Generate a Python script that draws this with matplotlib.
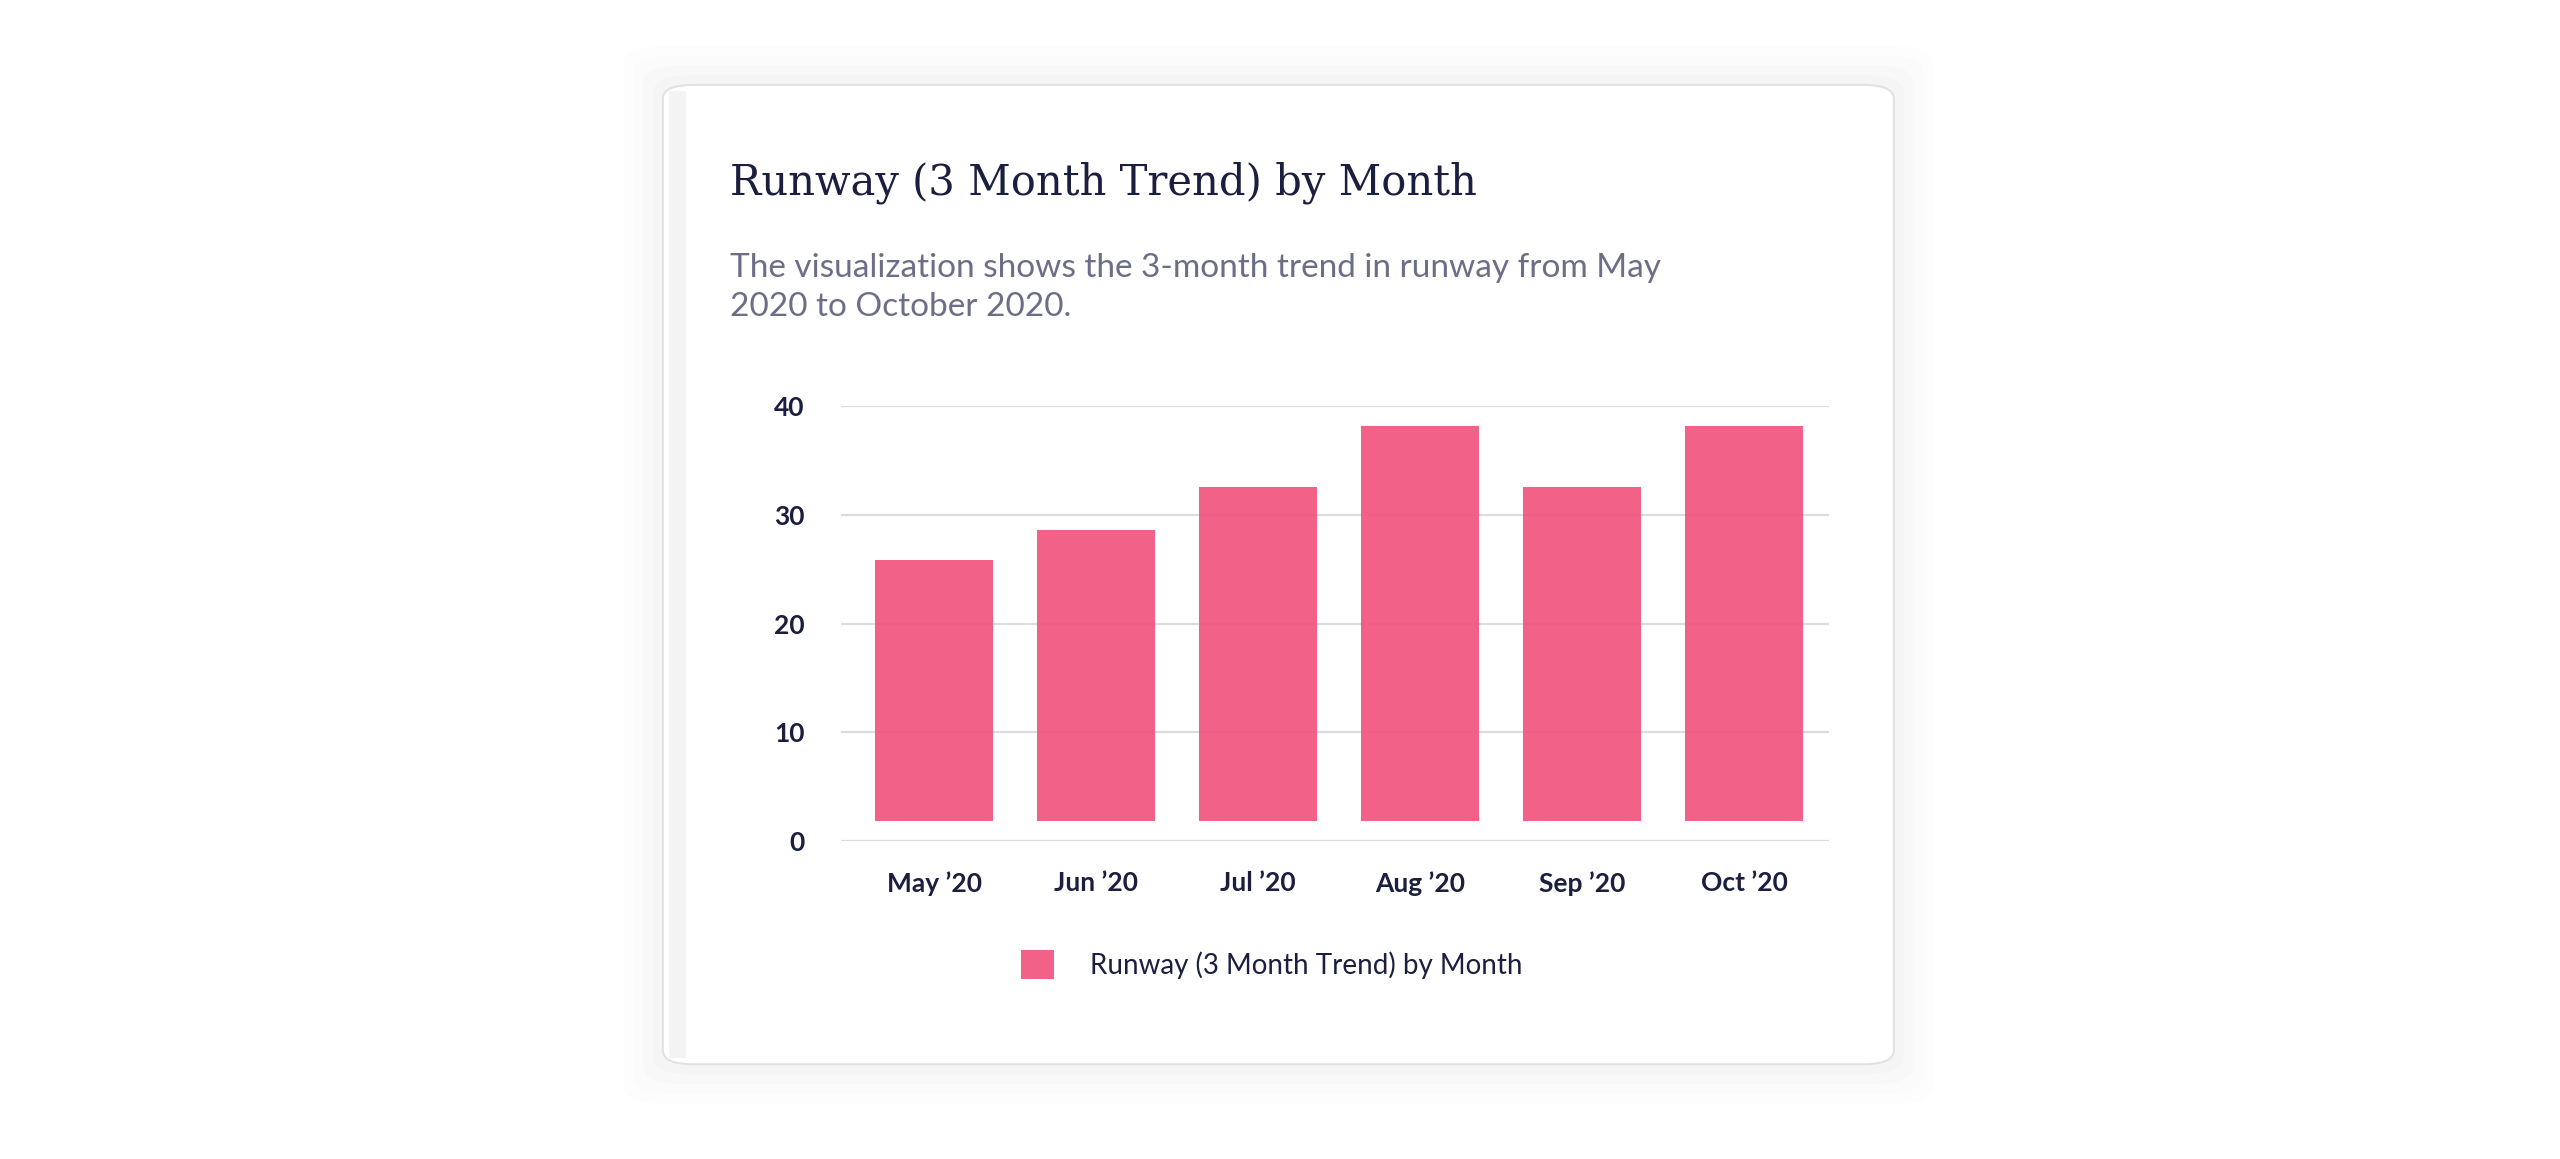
import matplotlib
matplotlib.use("Agg")
import matplotlib.pyplot as plt
from matplotlib.patches import FancyBboxPatch, Rectangle

months = ["May \u201920", "Jun \u201920", "Jul \u201920", "Aug \u201920", "Sep \u201920", "Oct \u201920"]
runway = [25.9, 28.6, 32.6, 38.2, 32.6, 38.2]
base = 1.8
yticks = [0, 10, 20, 30, 40]

W, H = 1568, 710
fig = plt.figure(figsize=(25.6, 11.59), dpi=100)
fig.patch.set_facecolor("white")

def fx(x): return x / W
def fy(y): return 1 - y / H

# card shadow + card
for i, a in enumerate([0.006, 0.008, 0.01, 0.012]):
    d = (4 - i) * 6
    fig.patches.append(FancyBboxPatch((fx(406 - d), fy(652 + d)), fx(754 + 2*d), (600 + 2*d) / H,
        boxstyle="round,pad=0,rounding_size=0.015", transform=fig.transFigure,
        facecolor="black", alpha=a, edgecolor="none", zorder=0))
fig.patches.append(FancyBboxPatch((fx(406), fy(652)), fx(754), 600 / H,
    boxstyle="round,pad=0,rounding_size=0.012", transform=fig.transFigure,
    facecolor="white", edgecolor="#e2e2e2", linewidth=1.5, zorder=1))
fig.patches.append(Rectangle((fx(410), fy(648)), fx(10), 592 / H, transform=fig.transFigure,
    facecolor="#f3f3f4", edgecolor="none", zorder=2))

fig.text(fx(447), fy(112), "Runway (3 Month Trend) by Month", fontsize=30, family="DejaVu Serif",
         color="#1b1f3f", va="center", ha="left", zorder=5)
fig.text(fx(447), fy(176), "The visualization shows the 3-month trend in runway from May\n2020 to October 2020.",
         fontsize=24, family="Lato", color="#6b6e86", va="center", ha="left", linespacing=1.4, zorder=5)

ax = fig.add_axes([fx(515), fy(515), fx(1120 - 515), (515 - 249) / H])
ax.set_zorder(5)
ax.set_facecolor("none")
x = list(range(len(months)))
ax.bar(x, [v - base for v in runway], bottom=base, width=0.73, color="#f0557f", alpha=0.93,
       label="Runway (3 Month Trend) by Month", zorder=3)
ax.set_xlim(-0.575, 5.52)
ax.set_ylim(0, 40)
ax.set_yticks(yticks)
ax.set_yticklabels([str(t) for t in yticks], fontsize=19, family="Lato", color="#1b1f3f")
ax.set_xticks(x)
ax.set_xticklabels(months, fontsize=19, family="Lato", fontweight="bold", color="#1b1f3f")
ax.grid(axis="y", color="#dcdcdf", linewidth=1.6, zorder=0)
for s in ax.spines.values():
    s.set_visible(False)
ax.tick_params(length=0, axis="y", pad=26)
ax.tick_params(length=0, axis="x", pad=22)
for lab in ax.get_yticklabels():
    lab.set_fontweight("bold")

leg = fig.legend(loc="center", bbox_to_anchor=(fx(779), fy(591)), frameon=False,
           prop={"family": "Lato", "size": 20}, handlelength=1.2, handleheight=1.2, handletextpad=1.3,
           labelcolor="#1b1f3f")
leg.set_zorder(6)

fig.savefig("out.png", dpi=100, facecolor="white")
